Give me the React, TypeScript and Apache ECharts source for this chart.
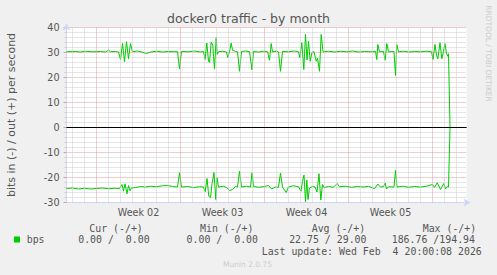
import React, { useEffect, useRef } from 'react';
import * as echarts from 'echarts';

// hours relative to Mon Jan 5 2026 00:00 (start of ISO week 02)
const X_MIN = -60; // Fri Jan 2 12:00
const X_MAX = 740; // Wed Feb 4 20:00

const weekLabels = ['Week 02', 'Week 03', 'Week 04', 'Week 05'];
const weekLabelHours = [84, 252, 420, 588];
const weekStartHours = [0, 168, 336, 504, 672];

// out (+) bits per second, plotted above zero
const outPoints: [number, number][] = [
  [-60, 30.3], [-42, 30.4], [-32, 30.2], [-22, 30.5], [-8, 30.3], [8, 30.4], [18, 30.2], [24, 30.9],
  [28, 30.3], [38, 30.4], [44, 30.2], [48, 27.2], [52, 33.6], [56, 26.3], [60, 34.3], [64, 27.5],
  [68, 33.6], [72, 30.3], [82, 30.6], [92, 30.1], [100, 29.6], [108, 30.2], [120, 30.5], [132, 30.2],
  [144, 30.4], [156, 30.3], [162, 30.3], [166, 23.5], [170, 30.4], [184, 30.3], [196, 30.6], [208, 30.2],
  [214, 30.4], [217, 27.2], [220.6, 33.8], [224, 26.6], [226, 26.0], [229.4, 34.2], [232.6, 33.0], [234, 28.5],
  [236, 23.5], [239.4, 35.9], [241.4, 29.2], [244, 30.3], [252, 30.5], [260, 30.2], [262.6, 28.0], [266, 30.4],
  [269.4, 33.8], [272, 30.9], [278, 30.4], [282, 30.3], [286, 22.5], [290, 30.4], [298, 30.6], [306, 30.3],
  [311, 23.0], [314, 30.4], [324, 30.2], [334, 30.5], [342, 30.3], [346, 26.9], [349.4, 33.6], [352, 30.3],
  [360, 30.5], [364, 30.2], [368, 22.5], [372, 30.4], [384, 30.3], [396, 30.6], [404, 30.3], [406.6, 28.0],
  [410.6, 33.9], [414.6, 23.2], [418, 37.2], [421, 27.0], [424, 34.5], [427.4, 26.5], [431, 30.0], [435, 30.4],
  [439.4, 26.5], [442, 27.8], [446, 22.5], [449.4, 37.2], [453, 30.3], [464, 30.5], [476, 30.2], [488, 30.5],
  [500, 30.3], [512, 30.6], [524, 30.2], [536, 30.4], [548, 30.3], [558, 30.4], [560.6, 27.2], [562.6, 33.2],
  [566, 30.3], [574, 30.4], [577.4, 26.9], [580.6, 33.6], [584, 30.3], [595, 30.4], [598, 20.8], [600.6, 33.2],
  [604, 30.3], [614, 30.5], [624, 30.2], [636, 30.4], [648, 30.3], [660, 30.5], [670, 30.3], [673, 27.2],
  [677, 33.2], [680, 29.0], [682.6, 27.5], [687, 33.9], [690.6, 27.5], [694, 30.4], [697, 33.6], [700, 29.5],
  [702.6, 28.5], [704, 29.5], [707, 0], [740, 0],
];

// in (-) bits per second, plotted below zero
const inPoints: [number, number][] = [
  [-60, -24.4], [-48, -24.2], [-36, -24.6], [-24, -24.3], [-12, -24.6], [0, -24.4], [12, -24.2], [24, -24.5],
  [36, -24.3], [46, -24.4], [51, -22.8], [54, -25.5], [57, -22.5], [61, -26.5], [64, -23.2], [67, -25.3],
  [70, -24.2], [78, -24.0], [88, -23.6], [98, -23.8], [108, -23.5], [120, -23.7], [132, -23.3], [142, -23.2],
  [152, -23.6], [162, -23.8], [166, -18.1], [170, -23.8], [182, -23.6], [194, -24.0], [206, -23.7], [214, -23.8],
  [217.4, -25.7], [221, -20.4], [224.6, -27.5], [228, -28.1], [231, -22.5], [235, -18.0], [238.6, -28.8], [241, -20.1],
  [244, -23.8], [254, -23.5], [260, -24.0], [266, -25.2], [272, -24.8], [278, -23.6], [282, -23.8], [286, -17.5],
  [290, -23.8], [300, -23.5], [308, -23.8], [311, -18.1], [314, -23.6], [324, -23.9], [336, -23.6], [344, -23.2],
  [350, -24.6], [358, -23.8], [364, -23.9], [368, -18.2], [372, -23.8], [379.4, -26.0], [384, -23.8], [394, -23.3],
  [404, -23.7], [409, -25.5], [412, -21.5], [415, -19.0], [418, -29.7], [420.6, -21.0], [423, -28.8], [426, -24.2],
  [432, -23.6], [437, -23.8], [441, -25.8], [445, -18.5], [448.6, -29.0], [452, -22.8], [455, -24.0], [464, -23.6],
  [474, -23.9], [481.4, -22.4], [486, -23.7], [498, -23.5], [510, -23.9], [522, -23.6], [534, -23.8], [544, -23.5],
  [556, -24.5], [562.6, -22.6], [568, -23.8], [574, -23.7], [577.4, -22.2], [580, -24.6], [584, -23.7], [595, -23.8],
  [598, -17.2], [601, -23.8], [612, -23.5], [624, -23.9], [636, -23.6], [648, -23.8], [660, -23.5], [672, -22.8],
  [676, -24.0], [681.4, -22.1], [688, -24.8], [694.6, -22.4], [698, -24.6], [702, -23.5], [704, -23.8], [707, 0],
  [740, 0],
];

const legendHeads = ['Cur (-/+)', 'Min (-/+)', 'Avg (-/+)', 'Max (-/+)'];
const legendHeadX = [89.3, 200, 311.7, 422.7];
const legendIn = ['0.00', '0.00', '22.75', '186.76'];
const legendOut = ['0.00', '0.00', '29.00', '194.94'];
const seriesName = 'bps';
const lastUpdateA = 'Last update: Wed Feb';
const lastUpdateB = '4 20:00:08 2026';

const GREEN = '#00cc00';
const FONT = '#555555';
const AXIS = '#cfd6f8';
const MGRID = '#dc9c9c';
const GRID = '#cccccc';
const MONO = '"DejaVu Sans Mono", monospace';
const SANS = '"DejaVu Sans", sans-serif';

export default function App() {
  const ref = useRef<HTMLDivElement>(null);

  useEffect(() => {
    const chart = echarts.init(ref.current!, undefined, { renderer: 'svg' });

    const dayLines: number[] = [];
    for (let h = Math.ceil(X_MIN / 24) * 24; h <= X_MAX; h += 24) dayLines.push(h);

    const cw = 5.95;
    const colStart = [66.3, 174.7, 283.2, 391.7];
    const monoText = (text: string, x: number, y: number, align: string = 'left') => ({
      type: 'text',
      x,
      y,
      silent: true,
      style: { text, fill: FONT, fontSize: 9.9, fontFamily: MONO, align, verticalAlign: 'middle' },
    });

    const graphics: any[] = [
      {
        type: 'text', x: 248.5, y: 18, silent: true,
        style: { text: 'docker0 traffic - by month', fill: FONT, fontSize: 12.5, fontFamily: SANS, align: 'center', verticalAlign: 'middle' },
      },
      {
        type: 'text', x: 11, y: 115, rotation: Math.PI / 2, silent: true,
        style: { text: 'bits in (-) / out (+) per second', fill: FONT, fontSize: 11, fontFamily: SANS, align: 'center', verticalAlign: 'middle' },
      },
      {
        type: 'text', x: 488, y: 53.5, rotation: -Math.PI / 2, silent: true,
        style: { text: 'RRDTOOL / TOBI OETIKER', fill: '#cccccc', fontSize: 7.5, fontFamily: SANS, align: 'center', verticalAlign: 'middle' },
      },
      {
        type: 'text', x: 247.5, y: 264, silent: true,
        style: { text: 'Munin 2.0.75', fill: '#cccccc', fontSize: 7.5, fontFamily: SANS, align: 'center', verticalAlign: 'middle' },
      },
      { type: 'rect', shape: { x: 14, y: 236.5, width: 6, height: 6 }, style: { fill: GREEN }, silent: true },
      monoText(seriesName, 26.7, 239.5),
      monoText(lastUpdateA, 261.7, 251.6),
      monoText(lastUpdateB, 261.7 + 22 * cw, 251.6),
    ];
    legendHeads.forEach((t, i) => graphics.push(monoText(t, legendHeadX[i], 228)));
    colStart.forEach((s, i) => {
      graphics.push(monoText(legendIn[i], s + 6 * cw, 239.5, 'right'));
      graphics.push(monoText('/', s + 7 * cw, 239.5));
      graphics.push(monoText(legendOut[i], s + 14 * cw, 239.5, 'right'));
    });

    const option: any = {
      animation: false,
      backgroundColor: '#f0f0f0',
      grid: { left: 66.5, top: 27.5, width: 400, height: 175, show: true, backgroundColor: '#ffffff', borderWidth: 0 },
      xAxis: {
        type: 'value',
        min: X_MIN,
        max: X_MAX,
        axisLine: {
          show: true, onZero: false,
          lineStyle: { color: AXIS, width: 1 },
          symbol: ['none', 'arrow'], symbolSize: [6, 7], symbolOffset: [0, 4],
        },
        axisTick: { show: false },
        splitLine: { show: false },
        axisLabel: {
          customValues: weekLabelHours,
          formatter: (v: number) => {
            const i = weekLabelHours.indexOf(v);
            return i >= 0 ? weekLabels[i] : '';
          },
          color: FONT, fontSize: 9.6, fontFamily: SANS, margin: 4.5,
        },
      },
      yAxis: {
        type: 'value',
        min: -30,
        max: 40,
        interval: 10,
        axisLine: {
          show: true, onZero: false,
          lineStyle: { color: AXIS, width: 1 },
          symbol: ['none', 'arrow'], symbolSize: [6, 7], symbolOffset: [0, 4],
        },
        axisTick: { show: true, length: 3, lineStyle: { color: MGRID } },
        minorTick: { show: true, splitNumber: 5, length: 2, lineStyle: { color: GRID } },
        splitLine: { show: true, lineStyle: { color: MGRID, type: [1, 1], width: 1 } },
        minorSplitLine: { show: true, lineStyle: { color: GRID, type: [1, 1], width: 1 } },
        axisLabel: { color: FONT, fontSize: 9.6, fontFamily: SANS, margin: 7 },
      },
      series: [
        {
          type: 'line', data: [], z: 1, silent: true,
          markLine: {
            silent: true, symbol: 'none', label: { show: false }, animation: false,
            data: dayLines.map((h) => ({
              xAxis: h,
              lineStyle: { color: weekStartHours.includes(h) ? MGRID : GRID, type: [1, 1], width: 1 },
            })),
          },
        },
        {
          name: 'out', type: 'line', data: outPoints, z: 2, symbol: 'none', showSymbol: false,
          lineStyle: { color: GREEN, width: 1 },
        },
        {
          name: 'in', type: 'line', data: inPoints, z: 2, symbol: 'none', showSymbol: false,
          lineStyle: { color: GREEN, width: 1 },
        },
        {
          type: 'line', data: [], z: 4, silent: true,
          markLine: {
            silent: true, symbol: 'none', label: { show: false }, animation: false,
            data: [{ yAxis: 0, lineStyle: { color: '#000000', type: 'solid', width: 1 } }],
          },
        },
      ],
      graphic: graphics,
    };

    chart.setOption(option);
    return () => chart.dispose();
  }, []);

  return <div ref={ref} style={{ position: 'fixed', left: 0, top: 0, width: 497, height: 275 }} />;
}
